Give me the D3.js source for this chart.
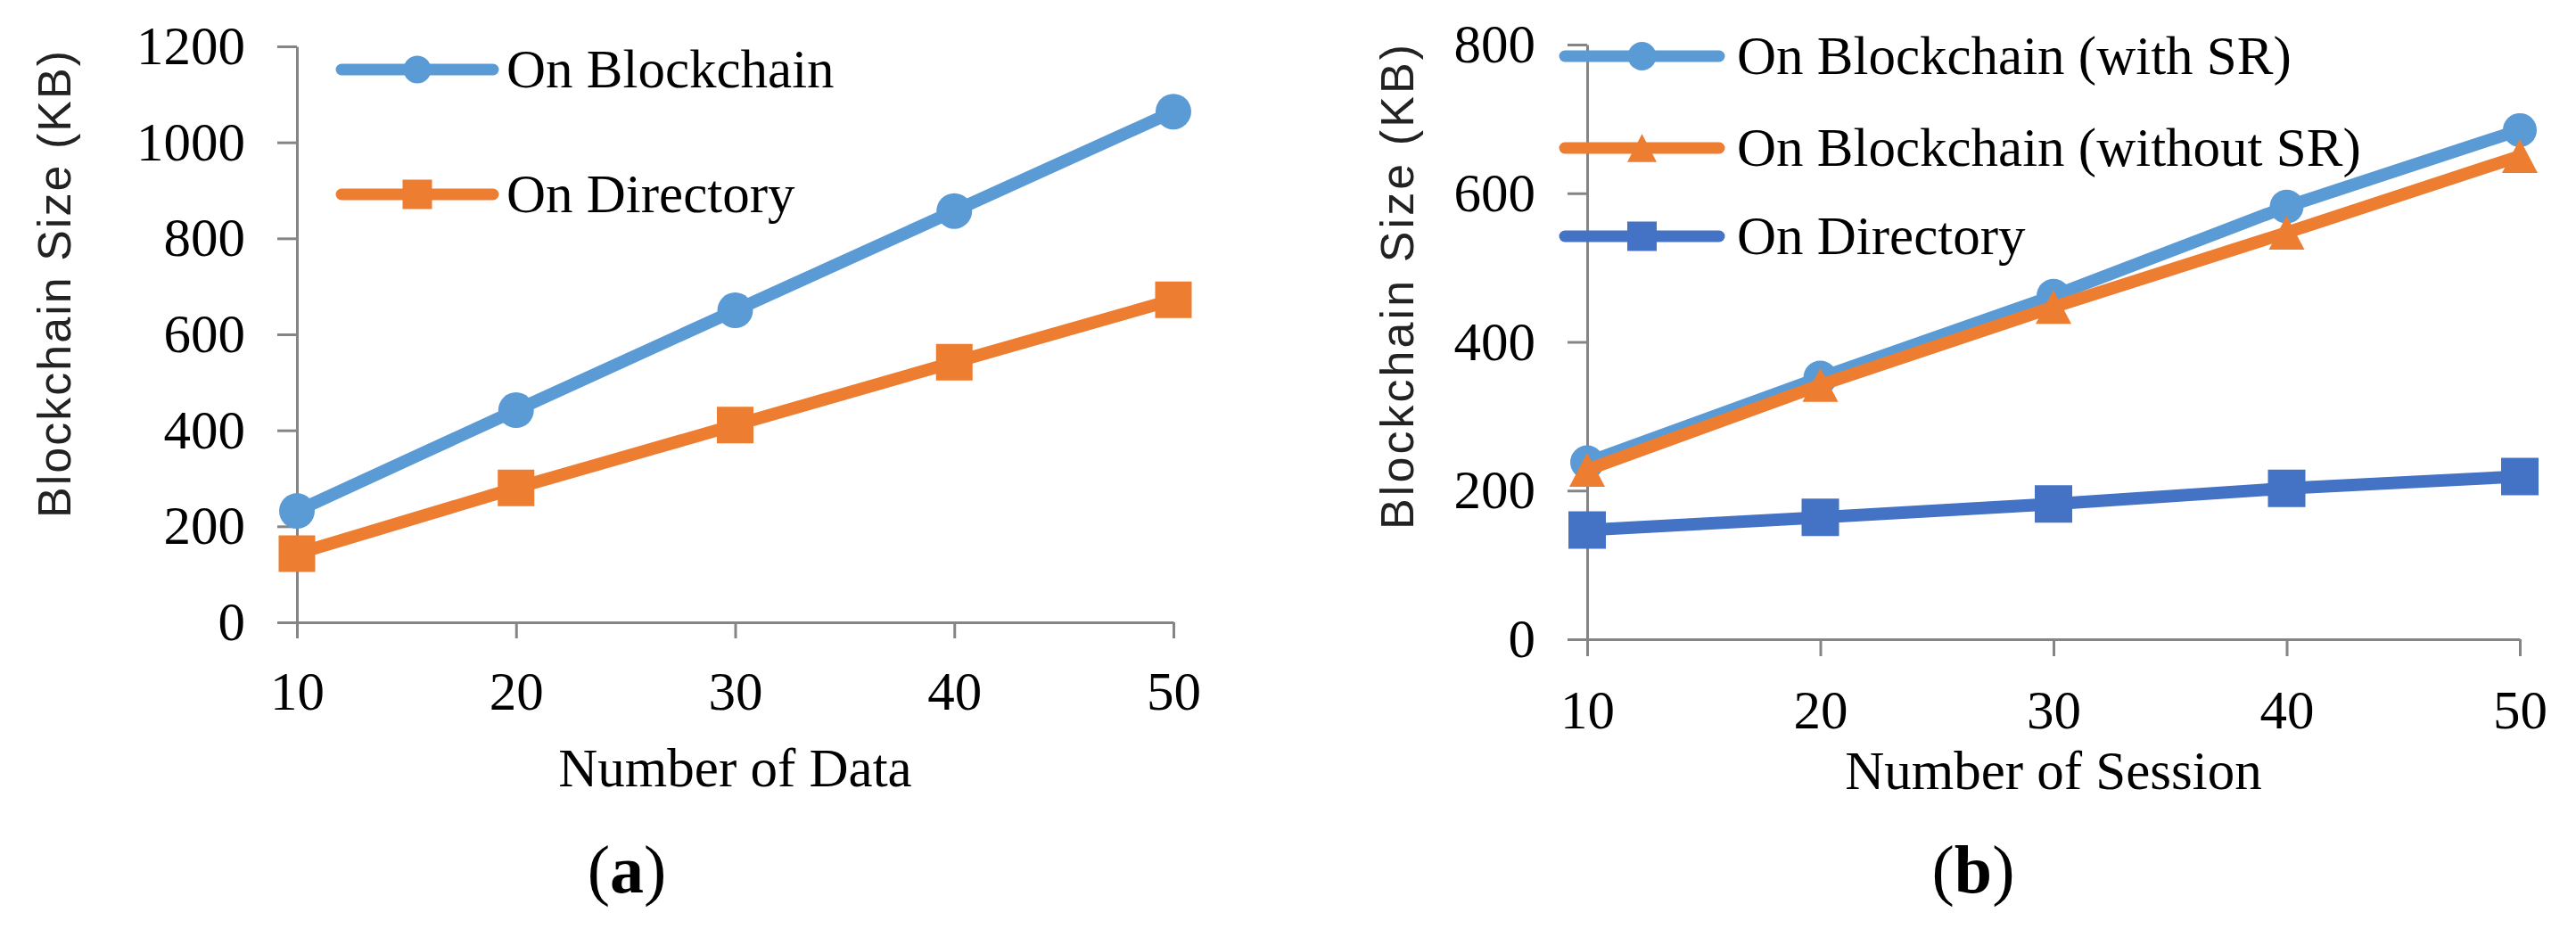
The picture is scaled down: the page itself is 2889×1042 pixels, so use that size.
<!DOCTYPE html>
<html>
<head>
<meta charset="utf-8">
<script src="https://cdn.jsdelivr.net/npm/d3@7"></script>
<style>
  html, body { margin: 0; padding: 0; background: #ffffff; }
  svg { display: block; }
</style>
</head>
<body>
<svg id="chart" width="2889" height="1042"></svg>
<script>
// ---------------- DATA ----------------
const categories = [10, 20, 30, 40, 50];

// Panel (a)
const yTicksA = [0, 200, 400, 600, 800, 1000, 1200];
const aOnBlockchain = [232, 442, 650, 857, 1064];
const aOnDirectory  = [143, 280, 411, 542, 672];
const aSeriesNames  = ["On Blockchain", "On Directory"];
const aXTitle = "Number of Data";
const aLabel = "a";

// Panel (b)
const yTicksB = [0, 200, 400, 600, 800];
const bWithSR      = [238, 352, 462, 582, 685];
const bWithoutSR   = [228, 342, 447, 547, 650];
const bOnDirectory = [147, 164, 182, 203, 219];
const bSeriesNames = ["On Blockchain (with SR)", "On Blockchain (without SR)", "On Directory"];
const bXTitle = "Number of Session";
const bLabel = "b";

const yTitle = "Blockchain Size (KB)";

// ---------------- STYLE ----------------
const C_BLUE = "#5B9BD5", C_ORANGE = "#ED7D31", C_DBLUE = "#4472C4";
const AXIS_COLOR = "#858585";
const SERIF = "'Liberation Serif', 'Times New Roman', serif";
const SANS = "'Liberation Sans', Arial, sans-serif";
const LINE_W = 14;

const svg = d3.select("#chart");

function markerPath(shape, size) {
  const h = size / 2;
  if (shape === "square") return `M${-h},${-h}H${h}V${h}H${-h}Z`;
  if (shape === "triangle") {
    const hh = size * 0.95 / 2;
    return `M0,${-hh}L${h},${hh}L${-h},${hh}Z`;
  }
  return d3.symbol(d3.symbolCircle, Math.PI * h * h)();
}

function drawPanel(cfg) {
  const g = svg.append("g");
  const x = d3.scalePoint().domain(categories).range(cfg.xRange).padding(0);
  const y = d3.scaleLinear().domain([0, d3.max(cfg.yTicks)]).range(cfg.yRange);

  const yAxis = d3.axisLeft(y).tickValues(cfg.yTicks).tickFormat(d3.format("d"))
    .tickSize(22).tickSizeOuter(0).tickPadding(36);
  const ya = g.append("g").attr("transform", `translate(${cfg.xRange[0]},0)`).call(yAxis);
  const xAxis = d3.axisBottom(x).tickSize(cfg.xTickSize).tickSizeOuter(0).tickPadding(cfg.xTickPad);
  const xa = g.append("g").attr("transform", `translate(0,${cfg.yRange[0]})`).call(xAxis);

  [ya, xa].forEach(a => {
    a.select(".domain").attr("stroke", AXIS_COLOR).attr("stroke-width", 3);
    a.selectAll(".tick line").attr("stroke", AXIS_COLOR).attr("stroke-width", 3);
    a.selectAll(".tick text").attr("fill", "#000").style("font-family", SERIF).style("font-size", "61px");
  });

  const line = d3.line().x((d, i) => x(categories[i])).y(d => y(d));
  cfg.series.forEach(s => {
    g.append("path").datum(s.values)
      .attr("d", line)
      .attr("fill", "none")
      .attr("stroke", s.color)
      .attr("stroke-width", LINE_W)
      .attr("stroke-linejoin", "round");
    g.selectAll(null).data(s.values).enter().append("path")
      .attr("d", markerPath(s.shape, s.size))
      .attr("transform", (d, i) => `translate(${x(categories[i])},${y(d)})`)
      .attr("fill", s.color);
  });

  cfg.series.forEach((s, i) => {
    const ly = cfg.legend.ys[i];
    g.append("line")
      .attr("x1", cfg.legend.x1).attr("x2", cfg.legend.x2)
      .attr("y1", ly).attr("y2", ly)
      .attr("stroke", s.color).attr("stroke-width", 13).attr("stroke-linecap", "round");
    g.append("path")
      .attr("d", markerPath(s.shape, s.legendSize))
      .attr("transform", `translate(${(cfg.legend.x1 + cfg.legend.x2) / 2},${ly})`)
      .attr("fill", s.color);
    g.append("text")
      .attr("x", cfg.legend.tx).attr("y", ly + 20)
      .style("font-family", SERIF).style("font-size", "61px")
      .attr("fill", "#000")
      .text(s.name);
  });

  g.append("text")
    .attr("transform", `translate(${cfg.yTitlePos[0]},${cfg.yTitlePos[1]}) rotate(-90)`)
    .attr("text-anchor", "middle")
    .style("font-family", SANS).style("font-size", "52px")
    .attr("textLength", cfg.yTitleLen).attr("lengthAdjust", "spacing")
    .attr("fill", "#222")
    .text(yTitle);

  g.append("text")
    .attr("x", (cfg.xRange[0] + cfg.xRange[1]) / 2).attr("y", cfg.xTitleY)
    .attr("text-anchor", "middle")
    .style("font-family", SERIF).style("font-size", "61px")
    .attr("fill", "#000")
    .text(cfg.xTitle);

  const pl = g.append("text")
    .attr("x", cfg.labelX).attr("y", 1001)
    .attr("text-anchor", "middle")
    .style("font-family", SERIF).style("font-size", "76px")
    .attr("fill", "#000");
  pl.append("tspan").text("(");
  pl.append("tspan").style("font-weight", "bold").text(cfg.label);
  pl.append("tspan").text(")");
}

drawPanel({
  xRange: [333, 1316], yRange: [698, 52], yTicks: yTicksA,
  xTickSize: 18, xTickPad: 37,
  series: [
    { name: aSeriesNames[0], values: aOnBlockchain, color: C_BLUE, shape: "circle", size: 40, legendSize: 31 },
    { name: aSeriesNames[1], values: aOnDirectory, color: C_ORANGE, shape: "square", size: 41, legendSize: 33 }
  ],
  legend: { x1: 383, x2: 553, ys: [78, 218], tx: 568 },
  yTitlePos: [79, 319], yTitleLen: 524,
  xTitle: aXTitle, xTitleY: 882,
  label: aLabel, labelX: 703
});

drawPanel({
  xRange: [1780, 2826], yRange: [717, 50], yTicks: yTicksB,
  xTickSize: 19, xTickPad: 38,
  series: [
    { name: bSeriesNames[0], values: bWithSR, color: C_BLUE, shape: "circle", size: 38, legendSize: 32 },
    { name: bSeriesNames[1], values: bWithoutSR, color: C_ORANGE, shape: "triangle", size: 40, legendSize: 33 },
    { name: bSeriesNames[2], values: bOnDirectory, color: C_DBLUE, shape: "square", size: 42, legendSize: 33 }
  ],
  legend: { x1: 1755, x2: 1928, ys: [63, 166, 265], tx: 1948 },
  yTitlePos: [1585, 322], yTitleLen: 544,
  xTitle: bXTitle, xTitleY: 885,
  label: bLabel, labelX: 2213
});
</script>
</body>
</html>
